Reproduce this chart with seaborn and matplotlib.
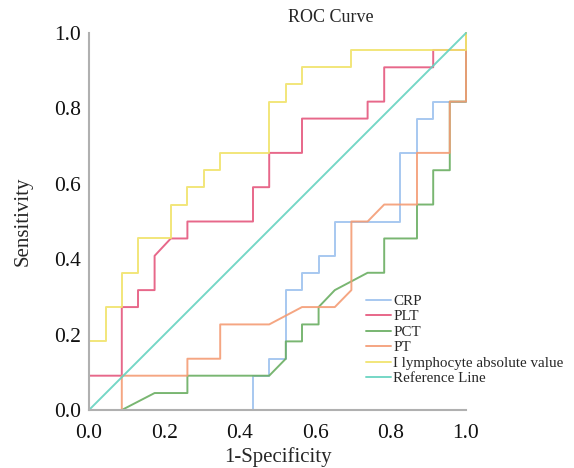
import matplotlib
matplotlib.use("Agg")
import matplotlib.pyplot as plt
import pandas as pd
import seaborn as sns

sns.set_theme(style="white")
plt.rcParams['font.family'] = ['Liberation Serif', 'DejaVu Serif']

# ROC points (1-specificity, sensitivity)
crp_x = [0, 0.435, 0.435, 0.478, 0.478, 0.522, 0.522, 0.565, 0.565, 0.609, 0.609, 0.652, 0.652,
         0.826, 0.826, 0.870, 0.870, 0.913, 0.913, 1.0, 1.0]
crp_y = [0, 0, 0.091, 0.091, 0.136, 0.136, 0.318, 0.318, 0.364, 0.364, 0.409, 0.409, 0.5,
         0.5, 0.682, 0.682, 0.773, 0.773, 0.818, 0.818, 1.0]

plt_x = [0, 0, 0.087, 0.087, 0.130, 0.130, 0.174, 0.174, 0.217, 0.261, 0.261, 0.435, 0.435,
         0.478, 0.478, 0.565, 0.565, 0.739, 0.739, 0.783, 0.783, 0.913, 0.913, 1.0, 1.0]
plt_y = [0, 0.091, 0.091, 0.273, 0.273, 0.318, 0.318, 0.409, 0.455, 0.455, 0.5, 0.5, 0.591,
         0.591, 0.682, 0.682, 0.773, 0.773, 0.818, 0.818, 0.909, 0.909, 0.955, 0.955, 1.0]

pct_x = [0, 0.087, 0.174, 0.261, 0.261, 0.478, 0.522, 0.522, 0.565, 0.565, 0.609, 0.609, 0.652,
         0.739, 0.783, 0.783, 0.870, 0.870, 0.913, 0.913, 0.957, 0.957, 1.0, 1.0]
pct_y = [0, 0, 0.045, 0.045, 0.091, 0.091, 0.136, 0.182, 0.182, 0.227, 0.227, 0.273, 0.318,
         0.364, 0.364, 0.455, 0.455, 0.545, 0.545, 0.636, 0.636, 0.818, 0.818, 1.0]

pt_x = [0, 0.087, 0.087, 0.261, 0.261, 0.348, 0.348, 0.478, 0.565, 0.652, 0.696, 0.696, 0.739,
        0.783, 0.870, 0.870, 0.957, 0.957, 1.0, 1.0]
pt_y = [0, 0, 0.091, 0.091, 0.136, 0.136, 0.227, 0.227, 0.273, 0.273, 0.318, 0.5, 0.5,
        0.545, 0.545, 0.682, 0.682, 0.818, 0.818, 1.0]

lym_x = [0, 0, 0.045, 0.045, 0.087, 0.087, 0.130, 0.130, 0.217, 0.217, 0.261, 0.261, 0.304,
         0.304, 0.348, 0.348, 0.478, 0.478, 0.522, 0.522, 0.565, 0.565, 0.696, 0.696, 1.0, 1.0]
lym_y = [0, 0.182, 0.182, 0.273, 0.273, 0.364, 0.364, 0.455, 0.455, 0.545, 0.545, 0.591, 0.591,
         0.636, 0.636, 0.682, 0.682, 0.818, 0.818, 0.864, 0.864, 0.909, 0.909, 0.955, 0.955, 1.0]

ref_x = [0, 1]
ref_y = [0, 1]

names = ['CRP', 'PLT', 'PCT', 'PT', 'I lymphocyte absolute value', 'Reference Line']
xs = [crp_x, plt_x, pct_x, pt_x, lym_x, ref_x]
ys = [crp_y, plt_y, pct_y, pt_y, lym_y, ref_y]
colors = ['#9ec2ee', '#e5577d', '#6aae62', '#f49c75', '#f1e36c', '#66d3c0']

frames = []
for n, x, y in zip(names, xs, ys):
    frames.append(pd.DataFrame({'fpr': x, 'tpr': y, 'curve': n}))
df = pd.concat(frames, ignore_index=True)

fig = plt.figure(figsize=(5.74, 4.68), dpi=100)
ax = fig.add_axes([89 / 574, 1 - 410 / 468, 377 / 574, 377 / 468])

sns.lineplot(data=df, x='fpr', y='tpr', hue='curve', hue_order=names,
             palette=dict(zip(names, colors)), sort=False, estimator=None,
             linewidth=1.4, alpha=0.9, ax=ax)
for ln in ax.get_lines():
    ln.set_clip_on(False)

ax.set_xlim(0, 1)
ax.set_ylim(0, 1)
ticks = [0.0, 0.2, 0.4, 0.6, 0.8, 1.0]
ax.set_xticks(ticks)
ax.set_yticks(ticks)
ax.set_xticklabels([f'{t:.1f}' for t in ticks])
ax.set_yticklabels([f'{t:.1f}' for t in ticks])
ax.tick_params(axis='x', length=0, pad=10, labelsize=15.5, colors='#111111')
ax.tick_params(axis='y', length=0, pad=6, labelsize=15.5, colors='#111111')
for s in ['top', 'right']:
    ax.spines[s].set_visible(False)
for s in ['left', 'bottom']:
    ax.spines[s].set_color('#b0b0b0')
    ax.spines[s].set_linewidth(1.5)

ax.set_xlabel('1-Specificity', fontsize=15, labelpad=3)
ax.set_ylabel('Sensitivity', fontsize=15, labelpad=15)
fig.text(331 / 574, 1 - 18 / 468, 'ROC Curve', ha='center', va='center', fontsize=13)

leg = ax.legend(loc='upper left', bbox_to_anchor=(358 / 574, 1 - 287 / 468),
                bbox_transform=fig.transFigure, frameon=False, fontsize=10.8,
                handlelength=1.7, handletextpad=0.15, labelspacing=0.13, borderpad=0)
for h in leg.get_lines():
    h.set_linewidth(1.4)

fig.savefig('out.png', dpi=100)
